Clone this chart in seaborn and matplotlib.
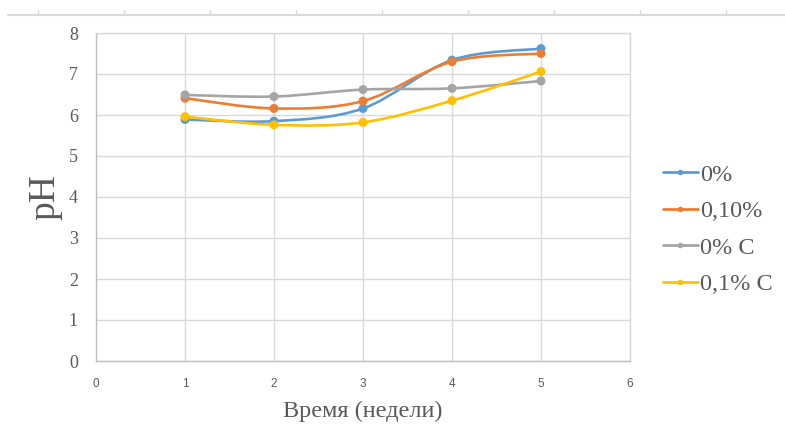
import numpy as np
import pandas as pd
import matplotlib
matplotlib.use("Agg")
import matplotlib.pyplot as plt
import seaborn as sns
from matplotlib.path import Path
from matplotlib.patches import PathPatch
from matplotlib.lines import Line2D

# pH over time for four sample groups
weeks = [1, 2, 3, 4, 5]
ph_0 = [5.89, 5.85, 6.16, 7.34, 7.62]
ph_010 = [6.41, 6.16, 6.34, 7.30, 7.50]
ph_0c = [6.49, 6.45, 6.62, 6.65, 6.83]
ph_01c = [5.96, 5.76, 5.82, 6.35, 7.06]
series_names = ["0%", "0,10%", "0% C", "0,1% C"]
series_values = [ph_0, ph_010, ph_0c, ph_01c]
colors = ["#5B9BD5", "#ED7D31", "#A5A5A5", "#FFC000"]

x_ticks = [0, 1, 2, 3, 4, 5, 6]
y_ticks = [0, 1, 2, 3, 4, 5, 6, 7, 8]

df = pd.DataFrame({
    "week": weeks * len(series_names),
    "ph": [v for vals in series_values for v in vals],
    "group": [n for n in series_names for _ in weeks],
})

sns.set_theme(style="white")
serif = ["Liberation Serif", "DejaVu Serif"]
plt.rcParams["font.family"] = serif

fig = plt.figure(figsize=(7.85, 4.41), dpi=100)
ax = fig.add_axes([96 / 785, 1 - 361 / 441, (630 - 96) / 785, (361 - 33) / 441])

grid_c = "#D9D9D9"
ax.set_xlim(0, 6)
ax.set_ylim(0, 8)
ax.set_xticks(x_ticks)
ax.set_yticks(y_ticks)
ax.grid(True, color=grid_c, linewidth=1.0)
ax.set_axisbelow(True)
for side in ["top", "right", "left", "bottom"]:
    ax.spines[side].set_color(grid_c)
    ax.spines[side].set_linewidth(1.0)
ax.spines["left"].set_color("#BFBFBF")
ax.spines["bottom"].set_color("#BFBFBF")


def smooth_path(xs, ys):
    """Bezier path through the points, in the style of office smoothed lines."""
    pts = np.column_stack([xs, ys]).astype(float)
    n = len(pts)
    verts = [pts[0]]
    codes = [Path.MOVETO]
    for i in range(n - 1):
        p0 = pts[i - 1] if i > 0 else pts[i]
        p1 = pts[i]
        p2 = pts[i + 1]
        p3 = pts[i + 2] if i + 2 < n else pts[i + 1]
        c1 = p1 + (p2 - p0) / 6.0
        c2 = p2 - (p3 - p1) / 6.0
        verts += [c1, c2, p2]
        codes += [Path.CURVE4] * 3
    return Path(verts, codes)


for name, vals, col in zip(series_names, series_values, colors):
    patch = PathPatch(smooth_path(weeks, vals), facecolor="none",
                      edgecolor=col, linewidth=1.9, transform=ax.transData,
                      capstyle="round", joinstyle="round", zorder=2)
    ax.add_patch(patch)

sns.scatterplot(data=df, x="week", y="ph", hue="group", hue_order=series_names,
                palette=colors, s=42, edgecolor="none", legend=False,
                ax=ax, zorder=3)

ax.tick_params(axis="both", length=0)
ax.tick_params(axis="y", labelsize=13, labelcolor="#595959", pad=13)
ax.tick_params(axis="x", labelsize=8.5, labelcolor="#595959", pad=12)
for lbl in ax.get_xticklabels():
    lbl.set_family(["Liberation Sans", "DejaVu Sans"])

ax.set_xlabel("Время (недели)", fontsize=17.5, color="#595959", labelpad=8)
ax.set_ylabel("pH", fontsize=27, color="#595959", labelpad=0)
ax.yaxis.set_label_coords((62 - 96) / (630 - 96), 0.5)

handles = [Line2D([0], [0], color=c, linewidth=2.0, marker="o",
                  markersize=4, markeredgewidth=0) for c in colors]
fig.legend(handles, series_names, loc="center left",
           bbox_to_anchor=(653 / 785, 1 - 229.5 / 441), frameon=False,
           fontsize=17.5, labelcolor="#595959", handlelength=1.45,
           handletextpad=0.08, labelspacing=0.59, borderaxespad=0)

# ruler strip along the top edge
ruler_y = 1 - 14.5 / 441
fig.add_artist(Line2D([8 / 785, 1.0], [ruler_y, ruler_y], color="#D9D9D9",
                      linewidth=1.5, transform=fig.transFigure))
for tx in np.arange(37.5, 785, 86):
    fig.add_artist(Line2D([tx / 785, tx / 785], [ruler_y, ruler_y + 5 / 441],
                          color="#D9D9D9", linewidth=1.0,
                          transform=fig.transFigure))

fig.savefig("out.png", dpi=100)
